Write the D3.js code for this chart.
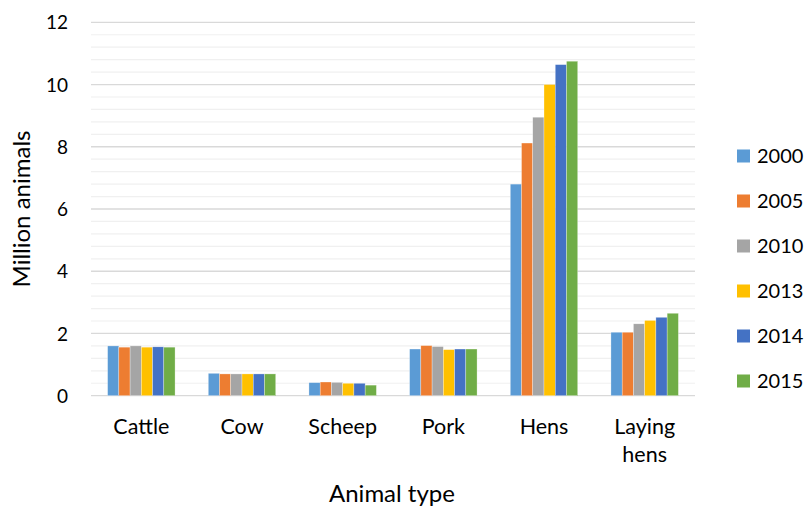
<!DOCTYPE html>
<html>
<head>
<meta charset="utf-8">
<script src="https://cdn.jsdelivr.net/npm/d3@7"></script>
<style>
  html, body { margin: 0; padding: 0; background: #fff; }
  svg { display: block; font-family: Lato, "Open Sans", sans-serif; }
</style>
</head>
<body>
<svg id="chart" width="807" height="508"></svg>
<script>
// Livestock counts (million animals) by animal type and year
const categories = ["Cattle", "Cow", "Scheep", "Pork", "Hens", "Laying hens"];
const years = ["2000", "2005", "2010", "2013", "2014", "2015"];
const values2000 = [1.60, 0.72, 0.42, 1.50, 6.80, 2.04];
const values2005 = [1.56, 0.70, 0.44, 1.61, 8.12, 2.04];
const values2010 = [1.60, 0.70, 0.43, 1.58, 8.95, 2.31];
const values2013 = [1.56, 0.70, 0.40, 1.48, 10.00, 2.42];
const values2014 = [1.57, 0.70, 0.40, 1.50, 10.64, 2.52];
const values2015 = [1.56, 0.70, 0.34, 1.50, 10.75, 2.65];
const seriesValues = [values2000, values2005, values2010, values2013, values2014, values2015];
const yTicks = [0, 2, 4, 6, 8, 10, 12];
const colors = ["#5B9BD5", "#ED7D31", "#A5A5A5", "#FFC000", "#4472C4", "#70AD47"];

const svg = d3.select("#chart");
const plot = { left: 91, right: 695, top: 22.3, bottom: 395.7 };

const x0 = d3.scaleBand()
  .domain(categories)
  .range([plot.left, plot.right])
  .paddingInner(0.33)
  .paddingOuter(0.165);

const x1 = d3.scaleBand()
  .domain(years)
  .range([0, x0.bandwidth()]);

const y = d3.scaleLinear()
  .domain([0, 12])
  .range([plot.bottom, plot.top]);

// minor gridlines every 0.4
const minor = d3.range(0, 12.0001, 0.4).filter(v => Math.abs(v / 2 - Math.round(v / 2)) > 1e-6);
svg.append("g")
  .selectAll("line")
  .data(minor)
  .join("line")
  .attr("x1", plot.left).attr("x2", plot.right)
  .attr("y1", d => y(d)).attr("y2", d => y(d))
  .attr("stroke", "#f0f0f0").attr("stroke-width", 1.2);

// major gridlines
svg.append("g")
  .selectAll("line")
  .data(yTicks)
  .join("line")
  .attr("x1", plot.left).attr("x2", plot.right)
  .attr("y1", d => y(d)).attr("y2", d => y(d))
  .attr("stroke", "#d9d9d9").attr("stroke-width", 1.3);

// y tick labels
const yAxis = d3.axisLeft(y).tickValues(yTicks).tickSize(0).tickPadding(0);
const yg = svg.append("g").attr("transform", "translate(68,0)").call(yAxis);
yg.select(".domain").remove();
yg.selectAll("text")
  .attr("font-size", 19).attr("fill", "#000")
  .attr("font-family", "Lato, 'Open Sans', sans-serif")
  .attr("dy", "0.35em");

// bars
const groups = svg.append("g")
  .selectAll("g")
  .data(categories)
  .join("g")
  .attr("transform", d => `translate(${x0(d)},0)`);

groups.selectAll("rect")
  .data((c, i) => years.map((yr, s) => ({ yr, s, v: seriesValues[s][i] })))
  .join("rect")
  .attr("x", d => x1(d.yr))
  .attr("width", x1.bandwidth())
  .attr("y", d => y(d.v))
  .attr("height", d => y(0) - y(d.v))
  .attr("fill", d => colors[d.s])
  .attr("stroke", "#fff").attr("stroke-width", 0.5).attr("stroke-opacity", 0.6);

// x category labels (wrapped on spaces)
const xAxis = d3.axisBottom(x0).tickSize(0).tickPadding(0);
const xg = svg.append("g").attr("transform", `translate(0,${plot.bottom})`).call(xAxis);
xg.select(".domain").remove();
xg.selectAll("text").remove();
xg.selectAll(".tick").each(function (d) {
  const words = d.split(" ");
  const t = d3.select(this).append("text")
    .attr("text-anchor", "middle")
    .attr("font-size", 21.5)
    .attr("fill", "#000")
    .attr("font-family", "Lato, 'Open Sans', sans-serif");
  words.forEach((w, k) => {
    t.append("tspan").attr("x", 0).attr("y", 31 + k * 28).attr("dy", "0.35em").text(w);
  });
});

// axis titles
svg.append("text")
  .attr("x", 392).attr("y", 494)
  .attr("text-anchor", "middle").attr("dy", "0.35em")
  .attr("font-size", 24).attr("fill", "#000")
  .text("Animal type");

svg.append("text")
  .attr("transform", "translate(22,209) rotate(-90)")
  .attr("text-anchor", "middle").attr("dy", "0.35em")
  .attr("font-size", 24).attr("fill", "#000")
  .text("Million animals");

// legend
const legend = svg.append("g")
  .selectAll("g")
  .data(years)
  .join("g")
  .attr("transform", (d, i) => `translate(737,${156 + i * 45})`);
legend.append("rect")
  .attr("x", 0).attr("y", -6.5)
  .attr("width", 13).attr("height", 13)
  .attr("fill", (d, i) => colors[i]);
legend.append("text")
  .attr("x", 20).attr("y", 0).attr("dy", "0.35em")
  .attr("font-size", 20).attr("fill", "#000")
  .text(d => d);
</script>
</body>
</html>
